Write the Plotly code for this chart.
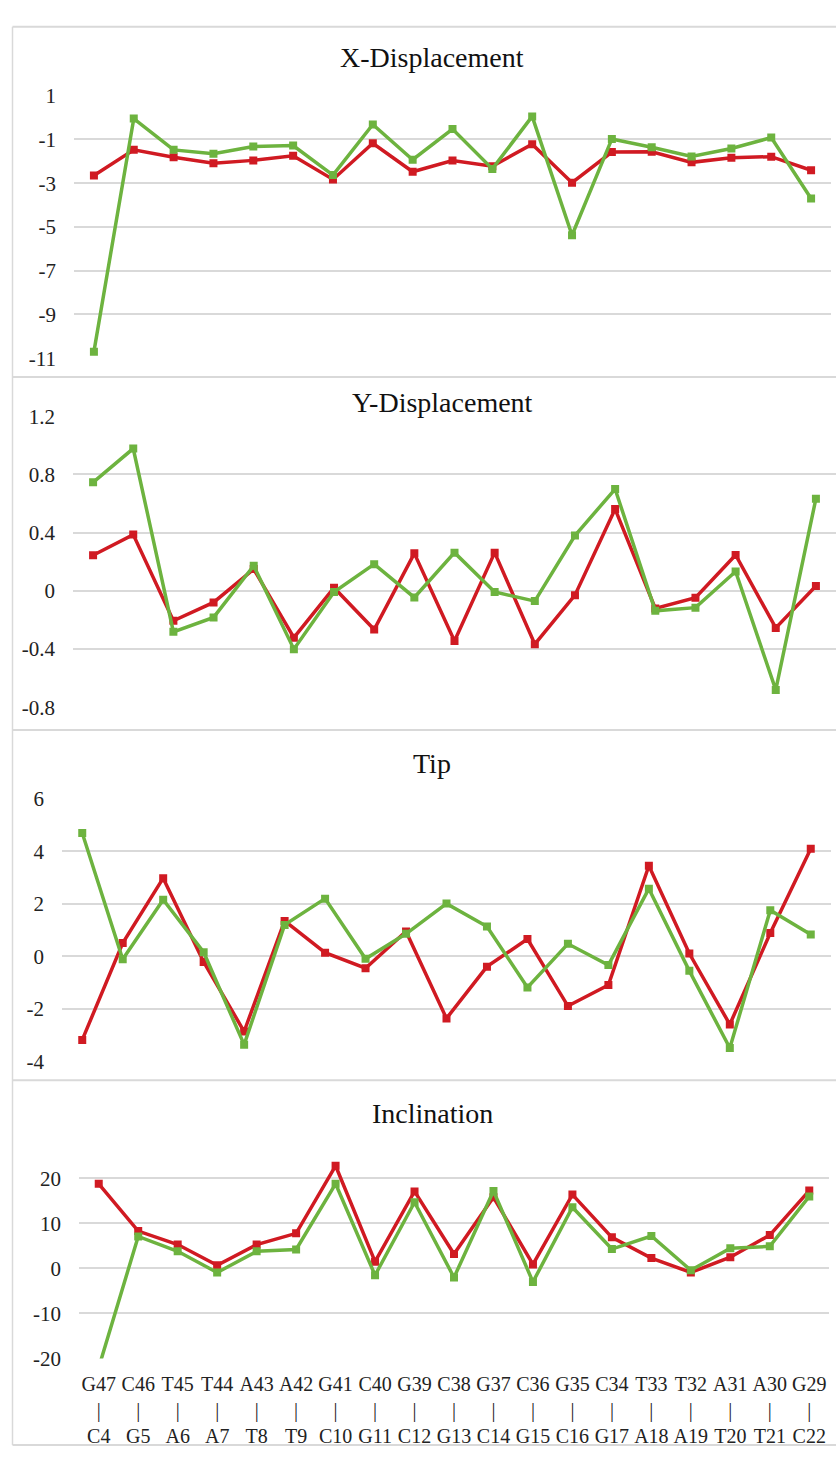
import plotly.graph_objects as go

W, H = 836, 1459

strand_top = ["G47", "C46", "T45", "T44", "A43", "A42", "G41", "C40", "G39", "C38",
              "G37", "C36", "G35", "C34", "T33", "T32", "A31", "A30", "G29"]
strand_bottom = ["C4", "G5", "A6", "A7", "T8", "T9", "C10", "G11", "C12", "G13",
                 "C14", "G15", "C16", "G17", "A18", "A19", "T20", "T21", "C22"]

x_disp_red = [-2.65, -1.48, -1.82, -2.09, -1.96, -1.75, -2.83, -1.18, -2.48, -1.97,
              -2.23, -1.22, -2.98, -1.58, -1.57, -2.05, -1.84, -1.79, -2.41]
x_disp_green = [-10.7, -0.05, -1.48, -1.66, -1.33, -1.28, -2.63, -0.32, -1.93, -0.53,
                -2.35, 0.05, -5.38, -0.98, -1.36, -1.78, -1.42, -0.92, -3.7]

y_disp_red = [0.245, 0.387, -0.205, -0.079, 0.15, -0.321, 0.022, -0.265, 0.258, -0.344,
              0.263, -0.366, -0.029, 0.562, -0.12, -0.047, 0.247, -0.254, 0.034]
y_disp_green = [0.746, 0.978, -0.281, -0.182, 0.173, -0.4, -0.007, 0.184, -0.045, 0.263,
                -0.007, -0.07, 0.38, 0.70, -0.137, -0.115, 0.133, -0.68, 0.634]

tip_red = [-3.18, 0.51, 2.98, -0.21, -2.86, 1.35, 0.14, -0.45, 0.95, -2.36,
           -0.39, 0.66, -1.89, -1.09, 3.45, 0.11, -2.59, 0.89, 4.1]
tip_green = [4.7, -0.11, 2.16, 0.16, -3.36, 1.2, 2.2, -0.09, 0.86, 2.01,
             1.14, -1.18, 0.48, -0.33, 2.58, -0.55, -3.49, 1.76, 0.83]

incl_red = [18.8, 8.3, 5.3, 0.7, 5.3, 7.8, 22.8, 1.5, 17.1, 3.2,
            15.8, 0.9, 16.4, 6.9, 2.3, -0.9, 2.5, 7.4, 17.3]
incl_green = [-22.0, 7.1, 3.8, -0.9, 3.8, 4.2, 18.8, -1.5, 14.7, -2.0,
              17.2, -3.0, 13.6, 4.3, 7.2, -0.4, 4.5, 4.9, 16.0]

titles = ["X-Displacement", "Y-Displacement", "Tip", "Inclination"]
y_ticks = [
    [-11, -9, -7, -5, -3, -1, 1],
    [-0.8, -0.4, 0, 0.4, 0.8, 1.2],
    [-4, -2, 0, 2, 4, 6],
    [-20, -10, 0, 10, 20],
]
y_ticktext = [
    ["-11", "-9", "-7", "-5", "-3", "-1", "1"],
    ["-0.8", "-0.4", "0", "0.4", "0.8", "1.2"],
    ["-4", "-2", "0", "2", "4", "6"],
    ["-20", "-10", "0", "10", "20"],
]
y_ranges = [[-11, 1], [-0.8, 1.2], [-4, 6], [-20, 25]]

series = [
    (x_disp_red, x_disp_green),
    (y_disp_red, y_disp_green),
    (tip_red, tip_green),
    (incl_red, incl_green),
]

# layout geometry (pixels)
x_dom_px = [(74, 831), (73, 836), (62, 831), (79, 829)]
y_dom_px = [(85, 352), (411, 707), (800, 1067), (1163, 1369)]
title_y_px = [46, 397, 764, 1120]
title_x_px = [432, 442, 432, 432]

RED = "#D01A22"
GREEN = "#6DB33F"
GRID = "#D9D9D9"
FONT = "Liberation Serif"

cats = [f"{t}<br>|<br>{b}" for t, b in zip(strand_top, strand_bottom)]

fig = go.Figure()
for i, (red, green) in enumerate(series):
    xa = "x" if i == 0 else f"x{i+1}"
    ya = "y" if i == 0 else f"y{i+1}"
    for vals, col in ((red, RED), (green, GREEN)):
        fig.add_trace(go.Scatter(
            x=cats, y=vals, xaxis=xa, yaxis=ya, mode="lines+markers",
            line=dict(color=col, width=3.5),
            marker=dict(symbol="square", size=8, color=col),
            showlegend=False, hoverinfo="skip",
        ))

layout = dict(
    width=W, height=H, autosize=False,
    margin=dict(l=0, r=0, t=0, b=0),
    paper_bgcolor="white", plot_bgcolor="white",
    font=dict(family=FONT, size=21, color="#222222"),
    showlegend=False,
)

for i in range(4):
    xk = "xaxis" if i == 0 else f"xaxis{i+1}"
    yk = "yaxis" if i == 0 else f"yaxis{i+1}"
    ya = "y" if i == 0 else f"y{i+1}"
    xa = "x" if i == 0 else f"x{i+1}"
    x0, x1 = x_dom_px[i]
    yt, yb = y_dom_px[i]
    layout[xk] = dict(
        domain=[x0 / W, x1 / W], anchor=ya, type="category",
        categoryorder="array", categoryarray=cats,
        range=[-0.5, len(cats) - 0.5],
        showgrid=False, zeroline=False, showline=False, ticks="",
        showticklabels=(i == 3), tickangle=0, tickmode="linear", dtick=1,
        tickfont=dict(family=FONT, size=20, color="#222222"),
        ticklabelstandoff=12,
    )
    layout[yk] = dict(
        domain=[1 - yb / H, 1 - yt / H], anchor=xa,
        range=y_ranges[i], tickmode="array", tickvals=y_ticks[i], ticktext=y_ticktext[i],
        showgrid=True, gridcolor=GRID, gridwidth=1.5, zeroline=False, showline=False,
        ticks="", tickfont=dict(family=FONT, size=21, color="#222222"),
        ticklabelstandoff=17,
    )

fig.update_layout(**layout)

for i, t in enumerate(titles):
    fig.add_annotation(
        text=t, x=title_x_px[i] / W, y=1 - title_y_px[i] / H, xref="paper", yref="paper",
        xanchor="center", yanchor="middle", showarrow=False,
        font=dict(family=FONT, size=28, color="#111111"),
    )

# panel borders
for yp in [15, 371, 730, 1086, 1457]:
    fig.add_shape(type="line", xref="paper", yref="paper",
                  x0=12.5 / W, x1=1.0, y0=1 - yp / H, y1=1 - yp / H,
                  line=dict(color=GRID, width=2))
fig.add_shape(type="line", xref="paper", yref="paper",
              x0=12.5 / W, x1=12.5 / W, y0=1 - 15 / H, y1=1 - 1457 / H,
              line=dict(color=GRID, width=1.5))

fig.write_html(
    "out.html",
    config={"displayModeBar": False},
    post_script="document.body.style.margin='0';document.body.style.overflow='hidden';",
)
